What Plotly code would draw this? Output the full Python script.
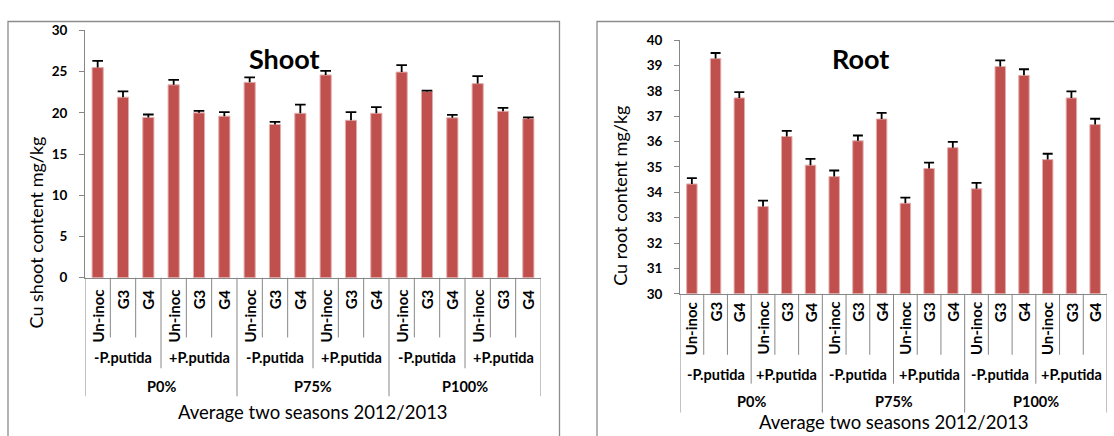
import plotly.graph_objects as go

W, H = 1114, 436

# Treatment layout
treatments = ["Un-inoc", "G3", "G4"] * 6
inoculation = ["-P.putida", "+P.putida"] * 3
phosphorus = ["P0%", "P75%", "P100%"]

# Cu in shoot (mg/kg) with standard error
shoot = [25.5, 21.9, 19.45, 23.4, 20.0, 19.6, 23.7, 18.6, 19.95,
         24.6, 19.1, 19.95, 24.95, 22.6, 19.4, 23.55, 20.2, 19.3]
shoot_err = [0.8, 0.7, 0.35, 0.6, 0.25, 0.5, 0.6, 0.3, 1.05,
             0.5, 1.0, 0.75, 0.85, 0.1, 0.35, 0.9, 0.4, 0.15]

# Cu in root (mg/kg) with standard error
root = [34.33, 39.27, 37.72, 33.44, 36.2, 35.07, 34.62, 36.03, 36.89,
        33.57, 34.94, 35.76, 34.14, 38.96, 38.61, 35.29, 37.72, 36.67]
root_err = [0.23, 0.22, 0.23, 0.23, 0.22, 0.25, 0.24, 0.21, 0.24,
            0.22, 0.23, 0.23, 0.23, 0.24, 0.24, 0.23, 0.26, 0.23]

BAR = "#C0504D"
GRID = "#878787"
FONT = "Lato"


def px(x):
    return x / W


def py(y):
    return 1 - y / H


fig = go.Figure()

panels = [
    dict(vals=shoot, errs=shoot_err, xa="x", ya="y", title="Shoot",
         ytitle="Cu shoot content mg/kg", xl=85, xr=541, yt=23.3, yb=280,
         yrange=[0, 30], dtick=5, title_x=284, title_y=52, ytitle_x=36,
         ytitle_y=233, lab_top=290, cat_bot=342, grp_y=363, grp_bot=374,
         p_y=393, p_bot=403, xt_y=419, frame_x0=8, frame_x1=559.5),
    dict(vals=root, errs=root_err, xa="x2", ya="y2", title="Root",
         ytitle="Cu root content mg/kg", xl=680, xr=1107, yt=33.3, yb=296.7,
         yrange=[30, 40], dtick=1, title_x=860, title_y=52, ytitle_x=620,
         ytitle_y=195, lab_top=303, cat_bot=360, grp_y=380, grp_bot=390,
         p_y=409, p_bot=420, xt_y=430, frame_x0=597, frame_x1=1130),
]

shapes = []
annotations = []
n = len(treatments)
xs = list(range(n))
cap = 0.21

for k, p in enumerate(panels):
    suffix = "" if k == 0 else "2"
    lo = p["yrange"][0]
    fig.add_trace(go.Bar(
        x=xs, y=[v - lo for v in p["vals"]], base=lo, width=0.44,
        xaxis=p["xa"], yaxis=p["ya"],
        marker=dict(color=BAR, line=dict(color="#E3AFAE", width=1)),
        showlegend=False, hoverinfo="skip"))

    # upper error bars with caps
    ex, ey = [], []
    for i, (v, e) in enumerate(zip(p["vals"], p["errs"])):
        ex += [i, i, None, i - cap, i + cap, None]
        ey += [v, v + e, None, v + e, v + e, None]
    fig.add_trace(go.Scatter(
        x=ex, y=ey, mode="lines", xaxis=p["xa"], yaxis=p["ya"],
        line=dict(color="black", width=1.8), showlegend=False,
        hoverinfo="skip"))

    fig.update_layout(**{
        "xaxis" + suffix: dict(
            domain=[px(p["xl"]), px(p["xr"])], range=[-0.5, n - 0.5],
            anchor="y" + suffix, showticklabels=False, ticks="",
            showgrid=False, zeroline=False, showline=True,
            linecolor=GRID, linewidth=1),
        "yaxis" + suffix: dict(
            domain=[py(p["yb"]), py(p["yt"])], range=p["yrange"],
            dtick=p["dtick"], anchor="x" + suffix, showgrid=False,
            zeroline=False, showline=True, linecolor=GRID, linewidth=1,
            ticks="outside", ticklen=5, tickcolor=GRID,
            ticklabelstandoff=9,
            tickfont=dict(family=FONT, size=13.5, color="black",
                          weight="bold")),
    })

    # outer chart frame
    shapes.append(dict(type="rect", xref="paper", yref="paper",
                       x0=px(p["frame_x0"]), x1=px(p["frame_x1"]),
                       y0=py(H + 20), y1=py(14),
                       line=dict(color="#8C8C8C", width=1.3)))

    # category separators below the axis
    for b in range(n + 1):
        if b % 6 == 0:
            bot = p["p_bot"]
        elif b % 3 == 0:
            bot = p["grp_bot"]
        else:
            bot = p["cat_bot"]
        shapes.append(dict(type="line", xref=p["xa"], yref="paper",
                           x0=b - 0.5, x1=b - 0.5, y0=py(p["yb"]), y1=py(bot),
                           line=dict(color=GRID, width=1)))

    for i, t in enumerate(treatments):
        annotations.append(dict(
            xref=p["xa"], yref="paper", x=i, y=py(p["lab_top"]),
            text="<b>%s</b>" % t, textangle=-90, showarrow=False,
            xanchor="center", yanchor="top",
            font=dict(family=FONT, size=15, color="black")))
    for j, g in enumerate(inoculation):
        annotations.append(dict(
            xref=p["xa"], yref="paper", x=3 * j + 1, y=py(p["grp_y"]),
            text="<b>%s</b>" % g, showarrow=False, xanchor="center",
            yanchor="middle", font=dict(family=FONT, size=14.5, color="black")))
    for j, g in enumerate(phosphorus):
        annotations.append(dict(
            xref=p["xa"], yref="paper", x=6 * j + 2.5, y=py(p["p_y"]),
            text="<b>%s</b>" % g, showarrow=False, xanchor="center",
            yanchor="middle", font=dict(family=FONT, size=14.5, color="black")))

    annotations.append(dict(
        xref=p["xa"], yref="paper", x=(n - 1) / 2, y=py(p["xt_y"]),
        text="Average two seasons 2012/2013", showarrow=False,
        xanchor="center", yanchor="middle",
        font=dict(family=FONT, size=18.5, color="black")))
    annotations.append(dict(
        xref="paper", yref="paper", x=px(p["ytitle_x"]), y=py(p["ytitle_y"]),
        text=p["ytitle"], textangle=-90, showarrow=False,
        xanchor="center", yanchor="middle",
        font=dict(family=FONT, size=18, color="black")))
    annotations.append(dict(
        xref="paper", yref="paper", x=px(p["title_x"]), y=py(p["title_y"]),
        text="<b>%s</b>" % p["title"], showarrow=False,
        xanchor="center", yanchor="middle",
        font=dict(family=FONT, size=27, color="black")))

fig.update_layout(
    width=W, height=H, margin=dict(l=0, r=0, t=0, b=0),
    paper_bgcolor="white", plot_bgcolor="white",
    barmode="overlay", shapes=shapes, annotations=annotations,
)

fig.write_html("out.html")
